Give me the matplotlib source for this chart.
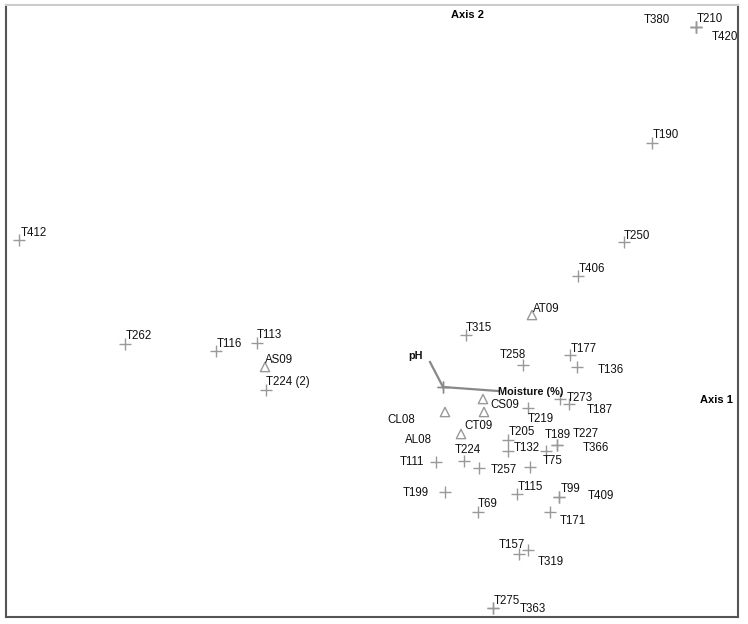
import numpy as np
import matplotlib.pyplot as plt

plt.rcParams['font.family'] = ['Liberation Sans Narrow', 'Liberation Sans', 'DejaVu Sans']

## Sample scores (axis 1, axis 2)
site_names = ['T210', 'T380', 'T420', 'T190', 'T250', 'T406', 'T412', 'T262', 'T116', 'T113',
              'T224 (2)', 'T315', 'T258', 'T177', 'T136', 'T273', 'T187', 'T219', 'T205', 'T132',
              'T189', 'T227', 'T366', 'T75', 'T224', 'T111', 'T257', 'T199', 'T115', 'T99',
              'T409', 'T69', 'T171', 'T157', 'T319', 'T275', 'T363']
site_ax1 = [2.53, 2.53, 2.53, 2.09, 1.81, 1.35, -4.24, -3.18, -2.27, -1.86,
            -1.77, 0.23, 0.80, 1.27, 1.34, 1.17, 1.26, 0.85, 0.65, 0.65,
            1.03, 1.14, 1.14, 0.87, 0.21, -0.07, 0.36, 0.02, 0.74, 1.16,
            1.16, 0.35, 1.07, 0.76, 0.85, 0.50, 0.50]
site_ax2 = [3.60, 3.60, 3.60, 2.44, 1.45, 1.11, 1.47, 0.43, 0.36, 0.44,
            -0.03, 0.52, 0.22, 0.32, 0.20, -0.12, -0.17, -0.21, -0.53, -0.64,
            -0.64, -0.58, -0.58, -0.80, -0.74, -0.75, -0.81, -1.05, -1.07, -1.10,
            -1.10, -1.25, -1.25, -1.67, -1.63, -2.21, -2.21]

## Centroids of nominal variables
cent_names = ['AT09', 'AS09', 'CS09', 'CT09', 'CL08', 'AL08']
cent_ax1 = [0.89, -1.78, 0.40, 0.41, 0.02, 0.18]
cent_ax2 = [0.72, 0.20, -0.12, -0.25, -0.25, -0.47]

## Environmental vectors
env_names = ['pH', 'Moisture (%)']
env_ax1 = [-0.13, 0.55]
env_ax2 = [0.25, -0.04]

# label placement (pixels from the point)
site_offsets = [(1, 8), (-52, 7), (16, -10), (1, 8), (0, 6), (1, 7), (2, 7), (1, 8), (1, 7), (0, 8),
                (0, 8), (0, 7), (-23, 10), (1, 6), (21, -3), (7, 1), (18, -6), (0, -11), (1, 8), (6, 3),
                (-1, 16), (16, 11), (26, -3), (13, 6), (-9, 11), (-36, 0), (12, -2), (-42, -1), (1, 7), (2, 8),
                (29, 1), (0, 8), (10, -9), (-20, 9), (10, -12), (1, 7), (27, -1)]
cent_offsets = [(1, 6), (0, 7), (7, -6), (-20, -14), (-58, -8), (-56, -6)]
env_offsets = [(-22, 6), (0, -1)]

fig = plt.figure(figsize=(7.48, 6.24), dpi=100)
ax = fig.add_axes([6/748, 1-617/624, 732/748, 612/624])
ax.set_xlim(-4.37, 2.95)
ax.set_ylim(-2.30, 3.82)
ax.set_xticks([])
ax.set_yticks([])
for side in ['left', 'bottom', 'right']:
    ax.spines[side].set_color('#555555')
    ax.spines[side].set_linewidth(1.5)
ax.spines['top'].set_color('#cccccc')
ax.spines['top'].set_linewidth(1.5)

ax.scatter(site_ax1, site_ax2, marker='+', s=70, color='#999999', linewidths=1, zorder=2)
ax.scatter(cent_ax1, cent_ax2, marker='^', s=45, facecolors='none', edgecolors='#999999',
           linewidths=1, zorder=2)
for x, y in zip(env_ax1, env_ax2):
    ax.plot([0, x], [0, y], color='#888888', lw=1.6, zorder=3,
            marker='+', markevery=[0], ms=9, mew=1)

txt = dict(ha='left', va='center', fontsize=8.3, color='#111111')
for name, x, y, off in zip(site_names, site_ax1, site_ax2, site_offsets):
    ax.annotate(name, (x, y), xytext=off, textcoords='offset pixels', **txt)
for name, x, y, off in zip(cent_names, cent_ax1, cent_ax2, cent_offsets):
    ax.annotate(name, (x, y), xytext=off, textcoords='offset pixels', **txt)
for name, x, y, off in zip(env_names, env_ax1, env_ax2, env_offsets):
    ax.annotate(name, (x, y), xytext=off, textcoords='offset pixels',
                ha='left', va='center', fontsize=7.8, fontweight='bold', color='#111111')

ax.text(0.631, 0.984, 'Axis 2', transform=ax.transAxes, ha='center', va='center',
        fontsize=8, fontweight='bold')
ax.text(0.970, 0.355, 'Axis 1', transform=ax.transAxes, ha='center', va='center',
        fontsize=8, fontweight='bold')

fig.savefig('out.png', dpi=100)
